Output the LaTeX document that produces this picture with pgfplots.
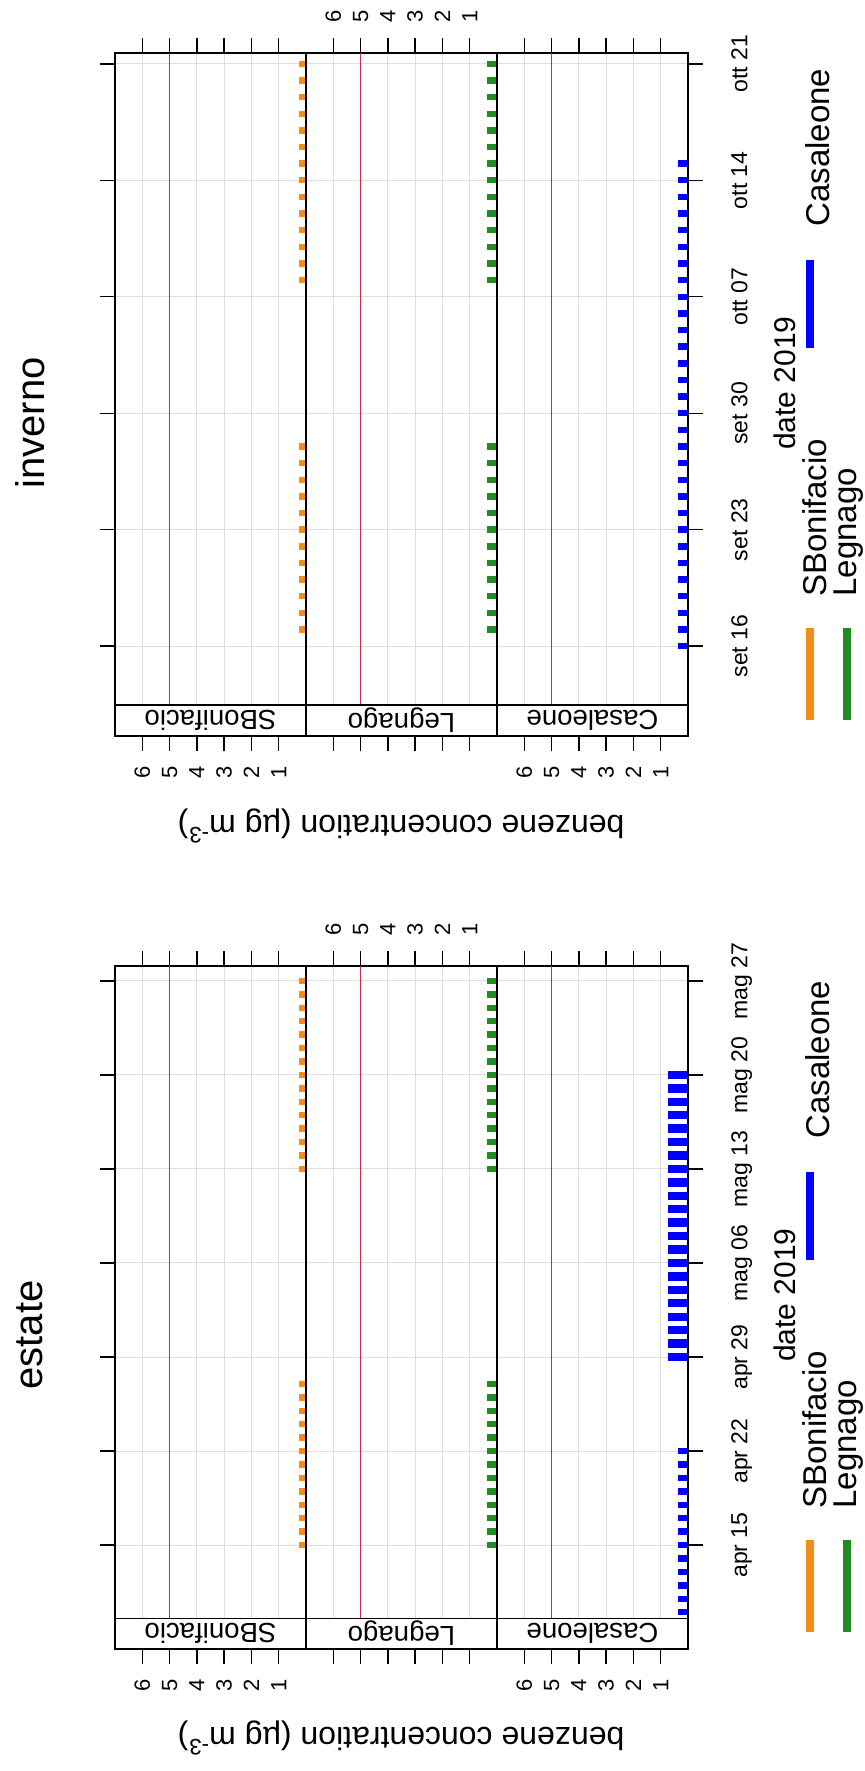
\documentclass[border=0pt]{standalone}
\usepackage{pgfplots}
\pgfplotsset{compat=1.18}
\usepackage{fontspec}
\setmainfont{Liberation Sans}
\definecolor{sbcol}{RGB}{245,140,25}
\definecolor{legcol}{RGB}{34,139,34}
\definecolor{cascol}{RGB}{0,0,255}
\definecolor{limcol}{RGB}{205,40,70}
\definecolor{gridcol}{RGB}{222,222,222}
\pgfplotsset{
  panel/.style={
    scale only axis, width=95.5pt, height=341.5pt, anchor=north west,
    x dir=reverse, xmin=0, xmax=7, xtick={1,...,6},
    tick align=outside, major tick length=7.5pt,
    grid=major, major grid style={gridcol, line width=0.5pt},
    axis line style={line width=0.6pt},
    tick style={black, line width=0.7pt},
    xtick pos=both, clip=false,
    xticklabels={\rotatebox{90}{1},\rotatebox{90}{2},\rotatebox{90}{3},\rotatebox{90}{4},\rotatebox{90}{5},\rotatebox{90}{6}},
    xticklabel style={inner sep=0pt, font=\fontsize{11}{11}\selectfont},
    xticklabel shift=7.5pt,
  },
  lowlab/.style={xticklabel pos=left},
  uplab/.style={xticklabel pos=right},
  datelab/.style={ytick pos=right, yticklabel style={inner sep=0pt, font=\fontsize{11.5}{12}\selectfont}, yticklabel shift=14pt},
  barA/.style={xcomb, no marks, line width=3.2pt},
}
\newcommand{\strip}[3]{%
  \draw[line width=0.6pt, fill=white] (axis cs:0,#1) rectangle (axis cs:7,#2);
  \node[rotate=180, font=\fontsize{13.8}{14}\selectfont] at (axis cs:3.5,{(#1+#2)/2}) {#3};}
\newcommand{\R}[1]{\rotatebox{90}{#1}}
\begin{document}
\begin{tikzpicture}
\useasboundingbox (0,0) rectangle (432.5pt,-885.5pt);
% ================= INVERNO =================
\begin{axis}[panel, lowlab, at={(57.5pt,-26.5pt)}, ymin=-5.40, ymax=35.65,
  ytick={0,7,14,21,28,35}, ytick pos=left, yticklabels={}]
  \addplot[barA, sbcol] coordinates {(0.27,1)(0.27,2)(0.27,3)(0.27,4)(0.27,5)(0.27,6)(0.27,7)(0.27,8)(0.27,9)(0.27,10)(0.27,11)(0.27,12)
    (0.27,22)(0.27,23)(0.27,24)(0.27,25)(0.27,26)(0.27,27)(0.27,28)(0.27,29)(0.27,30)(0.27,31)(0.27,32)(0.27,33)(0.27,34)(0.27,35)};
  \draw[limcol, line width=0.7pt] (axis cs:5,-3.54) -- (axis cs:5,35.65);
  \strip{-5.40}{-3.54}{SBonifacio}
\end{axis}
\begin{axis}[panel, uplab, at={(153pt,-26.5pt)}, ymin=-5.40, ymax=35.65,
  ytick={0,7,14,21,28,35}, ytick style={draw=none}, yticklabels={}]
  \addplot[barA, legcol] coordinates {(0.37,1)(0.37,2)(0.37,3)(0.37,4)(0.37,5)(0.37,6)(0.37,7)(0.37,8)(0.37,9)(0.37,10)(0.37,11)(0.37,12)
    (0.37,22)(0.37,23)(0.37,24)(0.37,25)(0.37,26)(0.37,27)(0.37,28)(0.37,29)(0.37,30)(0.37,31)(0.37,32)(0.37,33)(0.37,34)(0.37,35)};
  \draw[limcol, line width=0.7pt] (axis cs:5,-3.54) -- (axis cs:5,35.65);
  \strip{-5.40}{-3.54}{Legnago}
\end{axis}
\begin{axis}[panel, lowlab, datelab, at={(248.5pt,-26.5pt)}, ymin=-5.40, ymax=35.65,
  ytick={0,7,14,21,28,35},
  yticklabels={\R{set 16},\R{set 23},\R{set 30},\R{ott 07},\R{ott 14},\R{ott 21}}]
  \addplot[barA, cascol] coordinates {(0.37,0)(0.37,1)(0.37,2)(0.37,3)(0.37,4)(0.37,5)(0.37,6)(0.37,7)(0.37,8)(0.37,9)(0.37,10)(0.37,11)(0.37,12)(0.37,13)(0.37,14)
    (0.37,15)(0.37,16)(0.37,17)(0.37,18)(0.37,19)(0.37,20)(0.37,21)(0.37,22)(0.37,23)(0.37,24)(0.37,25)(0.37,26)(0.37,27)(0.37,28)(0.37,29)};
  \draw[limcol, line width=0.7pt] (axis cs:5,-3.54) -- (axis cs:5,35.65);
  \strip{-5.40}{-3.54}{Casaleone}
\end{axis}
% ================= ESTATE =================
\begin{axis}[panel, lowlab, at={(57.5pt,-483pt)}, ymin=-7.74, ymax=43.11,
  ytick={0,7,14,21,28,35,42}, ytick pos=left, yticklabels={}]
  \addplot[barA, sbcol] coordinates {(0.27,0)(0.27,1)(0.27,2)(0.27,3)(0.27,4)(0.27,5)(0.27,6)(0.27,7)(0.27,8)(0.27,9)(0.27,10)(0.27,11)(0.27,12)
    (0.27,28)(0.27,29)(0.27,30)(0.27,31)(0.27,32)(0.27,33)(0.27,34)(0.27,35)(0.27,36)(0.27,37)(0.27,38)(0.27,39)(0.27,40)(0.27,41)(0.27,42)};
  \draw[limcol, line width=0.7pt] (axis cs:5,-5.44) -- (axis cs:5,43.11);
  \strip{-7.74}{-5.44}{SBonifacio}
\end{axis}
\begin{axis}[panel, uplab, at={(153pt,-483pt)}, ymin=-7.74, ymax=43.11,
  ytick={0,7,14,21,28,35,42}, ytick style={draw=none}, yticklabels={}]
  \addplot[barA, legcol] coordinates {(0.37,0)(0.37,1)(0.37,2)(0.37,3)(0.37,4)(0.37,5)(0.37,6)(0.37,7)(0.37,8)(0.37,9)(0.37,10)(0.37,11)(0.37,12)
    (0.37,28)(0.37,29)(0.37,30)(0.37,31)(0.37,32)(0.37,33)(0.37,34)(0.37,35)(0.37,36)(0.37,37)(0.37,38)(0.37,39)(0.37,40)(0.37,41)(0.37,42)};
  \draw[limcol, line width=0.7pt] (axis cs:5,-5.44) -- (axis cs:5,43.11);
  \strip{-7.74}{-5.44}{Legnago}
\end{axis}
\begin{axis}[panel, lowlab, datelab, at={(248.5pt,-483pt)}, ymin=-7.74, ymax=43.11,
  ytick={0,7,14,21,28,35,42},
  yticklabels={\R{apr 15},\R{apr 22},\R{apr 29},\R{mag 06},\R{mag 13},\R{mag 20},\R{mag 27}}]
  \addplot[barA, cascol] coordinates {(0.37,-5)(0.37,-4)(0.37,-3)(0.37,-2)(0.37,-1)(0.37,0)(0.37,1)(0.37,2)(0.37,3)(0.37,4)(0.37,5)(0.37,6)(0.37,7)};
  \addplot[barA, cascol, line width=4.2pt] coordinates {(0.73,14)(0.73,15)(0.73,16)(0.73,17)(0.73,18)(0.73,19)(0.73,20)(0.73,21)(0.73,22)(0.73,23)(0.73,24)
    (0.73,25)(0.73,26)(0.73,27)(0.73,28)(0.73,29)(0.73,30)(0.73,31)(0.73,32)(0.73,33)(0.73,34)(0.73,35)};
  \draw[limcol, line width=0.7pt] (axis cs:5,-5.44) -- (axis cs:5,43.11);
  \strip{-7.74}{-5.44}{Casaleone}
\end{axis}
% ================= texts =================
\foreach \dy/\ttl in {0/inverno, 456/estate}{
  \node[rotate=90, font=\fontsize{20}{24}\selectfont] at (15pt,{-211.5pt-\dy pt}) {\ttl};
  \node[rotate=180, font=\fontsize{16}{18}\selectfont] at (200.5pt,{-413pt-\dy pt}) {benzene concentration (µg m\textsuperscript{-3})};
  \node[rotate=90, font=\fontsize{15}{18}\selectfont] at (392.5pt,{-191.5pt-\dy pt}) {date 2019};
  \draw[sbcol, line width=4pt] (405pt,{-314pt-\dy pt}) -- (405pt,{-360pt-\dy pt});
  \draw[legcol, line width=4pt] (423.5pt,{-314pt-\dy pt}) -- (423.5pt,{-360pt-\dy pt});
  \draw[cascol, line width=4pt] (405pt,{-130pt-\dy pt}) -- (405pt,{-174pt-\dy pt});
  \node[rotate=90, anchor=west, inner sep=0pt, font=\fontsize{16.5}{18}\selectfont] at (407.5pt,{-298.5pt-\dy pt}) {SBonifacio};
  \node[rotate=90, anchor=west, inner sep=0pt, font=\fontsize{16.5}{18}\selectfont] at (424.5pt,{-298.5pt-\dy pt}) {Legnago};
  \node[rotate=90, anchor=west, inner sep=0pt, font=\fontsize{16.5}{18}\selectfont] at (409pt,{-113.5pt-\dy pt}) {Casaleone};
}
\end{tikzpicture}
\end{document}
